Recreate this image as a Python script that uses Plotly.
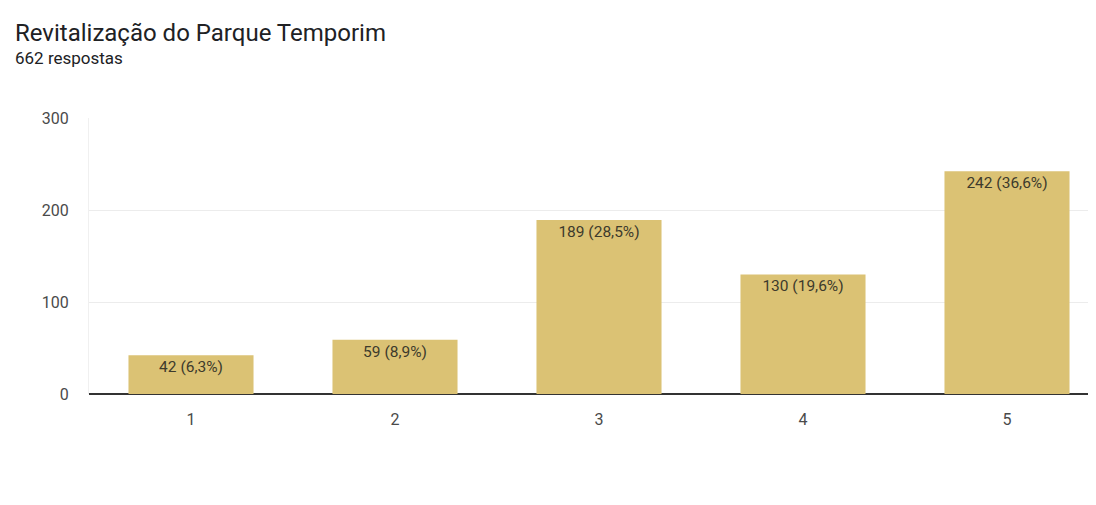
import plotly.graph_objects as go

# Dados
categorias = [1, 2, 3, 4, 5]
respostas = [42, 59, 189, 130, 242]
rotulos = ["42 (6,3%)", "59 (8,9%)", "189 (28,5%)", "130 (19,6%)", "242 (36,6%)"]
y_ticks = [0, 100, 200, 300]

titulo = "Revitalização do Parque Temporim"
subtitulo = "662 respostas"

# a página tem 8px de margem no body, por isso tudo é deslocado em 8px
OFF = 8
W, H = 1096 - 2 * OFF, 505 - 2 * OFF
L, T = 89 - OFF, 118 - OFF
B = H - (394 - OFF)
R = 0
plot_w = W - L - R
plot_h = H - T - B

passo = 204          # px por categoria
centro1 = 191 - OFF  # centro da barra 1 (coordenada da figura)

fig = go.Figure()
fig.add_trace(go.Bar(
    x=categorias,
    y=respostas,
    text=rotulos,
    textposition="inside",
    insidetextanchor="end",
    textangle=0,
    textfont=dict(family="Roboto", size=15.5, color="#3d3a2c"),
    marker=dict(color="#dbc274", line=dict(width=0)),
    width=0.613,
    cliponaxis=False,
    hoverinfo="skip",
))

# título e subtítulo no canto superior esquerdo
fig.add_annotation(
    text=titulo, xref="paper", yref="paper",
    x=(13 - OFF - L) / plot_w, y=1 + (T - (33 - OFF)) / plot_h,
    xanchor="left", yanchor="middle", showarrow=False,
    font=dict(family="Roboto", size=24, color="#202124"),
)
fig.add_annotation(
    text=subtitulo, xref="paper", yref="paper",
    x=(13 - OFF - L) / plot_w, y=1 + (T - (58 - OFF)) / plot_h,
    xanchor="left", yanchor="middle", showarrow=False,
    font=dict(family="Roboto", size=17, color="#202124"),
)

fig.update_layout(
    width=W, height=H,
    margin=dict(l=L, r=R, t=T, b=B),
    paper_bgcolor="white",
    plot_bgcolor="white",
    showlegend=False,
    font=dict(family="Roboto", color="#4a4a4a"),
)
fig.update_xaxes(
    range=[1 - (centro1 - L) / passo, 1 + (W - R - centro1) / passo],
    tickvals=categorias,
    ticktext=[str(c) for c in categorias],
    tickfont=dict(size=16, color="#4a4a4a"),
    showgrid=False,
    zeroline=False,
    showline=False,
    ticks="",
    ticklabelstandoff=14,
)
fig.update_yaxes(
    range=[0, 300],
    tickvals=y_ticks,
    tickfont=dict(size=16, color="#4a4a4a"),
    showgrid=True,
    gridcolor="#ececec",
    gridwidth=1,
    zeroline=True,
    zerolinecolor="#333333",
    zerolinewidth=1.5,
    showline=True,
    linecolor="#f0f0f0",
    linewidth=1,
    ticks="",
    ticklabelstandoff=16,
)

fig.write_html("out.html")
